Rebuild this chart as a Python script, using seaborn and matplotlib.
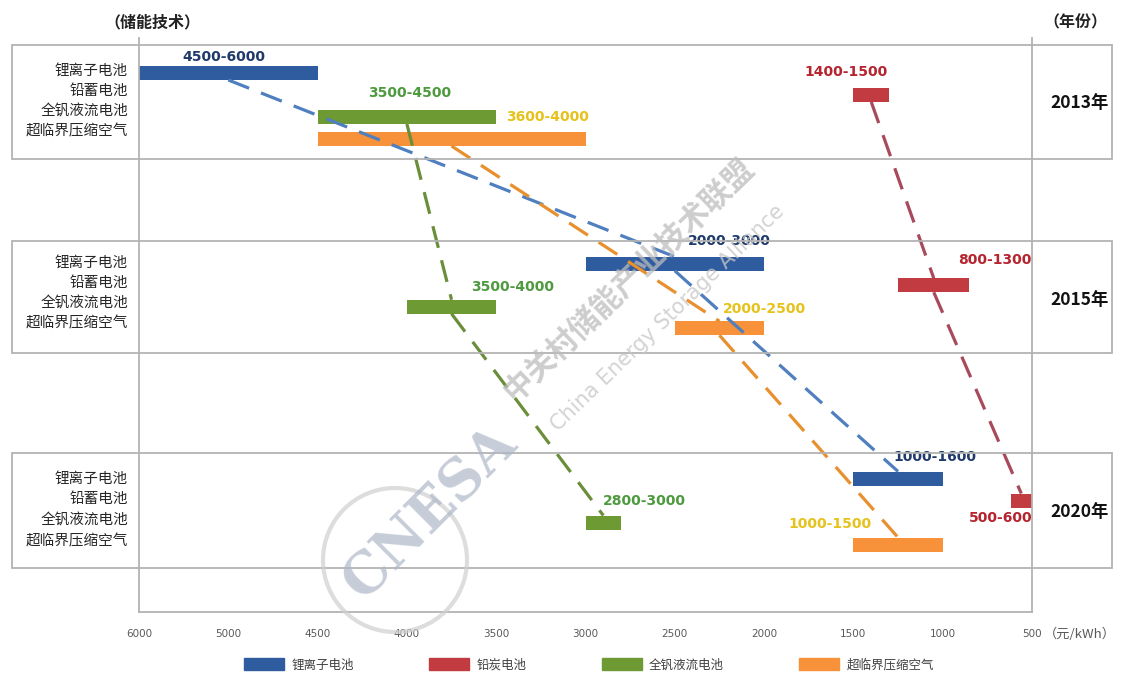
import numpy as np
import pandas as pd
import matplotlib
matplotlib.use("Agg")
import matplotlib.pyplot as plt
from matplotlib.patches import Rectangle, Patch, Circle
from matplotlib.transforms import IdentityTransform
import seaborn as sns

# ---------------- data ----------------
techs = ["锂离子电池", "铅炭电池", "全钒液流电池", "超临界压缩空气"]
row_labels = ["锂离子电池", "铅蓄电池", "全钒液流电池", "超临界压缩空气"]
years = ["2013年", "2015年", "2020年"]

low_2013 = [4500, 1300, 3500, 3000]
high_2013 = [6000, 1500, 4500, 4500]
low_2015 = [2000, 850, 3500, 2000]
high_2015 = [3000, 1250, 4000, 2500]
low_2020 = [1000, 500, 2800, 1000]
high_2020 = [1500, 620, 3000, 1500]

labels_2013 = ["4500-6000", "1400-1500", "3500-4500", "3600-4000"]
labels_2015 = ["2000-3000", "800-1300", "3500-4000", "2000-2500"]
labels_2020 = ["1000-1600", "500-600", "2800-3000", "1000-1500"]

xtick_values = [6000, 5000, 4500, 4000, 3500, 3000, 2500, 2000, 1500, 1000, 500]
xtick_labels = ["6000", "5000", "4500", "4000", "3500", "3000", "2500", "2000", "1500", "1000", "500"]

lows = [low_2013, low_2015, low_2020]
highs = [high_2013, high_2015, high_2020]
value_labels = [labels_2013, labels_2015, labels_2020]

# ---------------- style ----------------
bar_colors = ["#2F5C9E", "#C23B40", "#6E9A34", "#F7923A"]
dash_colors = ["#4F7FBF", "#A84A5C", "#6B8E3A", "#E8902E"]
label_colors = ["#1F3A6B", "#B5242F", "#4E9A3E", "#E6C21C"]
grey = "#B3B3B3"

sns.set_theme(style="white")
plt.rcParams["font.family"] = ["Noto Sans CJK SC", "DejaVu Sans"]

W, H = 1125, 682
fig = plt.figure(figsize=(W / 100, H / 100), dpi=100)
ax = fig.add_axes([139 / W, 1 - 612 / H, (1032 - 139) / W, (612 - 38) / H])


def fwd(v):
    v = np.asarray(v, dtype=float)
    return np.where(v > 5000, 5000 + (v - 5000) / 2.0, v)


def inv(p):
    p = np.asarray(p, dtype=float)
    return np.where(p > 5000, 5000 + (p - 5000) * 2.0, p)


def mid(lo, hi):
    return float(inv((fwd(lo) + fwd(hi)) / 2.0))


# layout (pixel-like y units, inverted axis)
bar_centers = [106, 296, 511.5]
bar_steps = [22, 21.5, 22]
bar_h = 14
lab_centers = [101, 293, 510]
lab_steps = [20, 20, 21]


def bar_y(j, i):
    return bar_centers[j] + (i - 1.5) * bar_steps[j]


# connectors (seaborn lineplot, drawn before the function scale is set)
rows = []
for i, t in enumerate(techs):
    for s in range(2):
        rows.append(dict(tech=t, seg=f"{t}-{s}", x=mid(lows[s][i], highs[s][i]),
                         y=bar_y(s, i) + bar_h / 2))
        rows.append(dict(tech=t, seg=f"{t}-{s}", x=mid(lows[s + 1][i], highs[s + 1][i]),
                         y=bar_y(s + 1, i) - bar_h / 2))
df_lines = pd.DataFrame(rows)
sns.lineplot(data=df_lines, x="x", y="y", hue="tech", units="seg", estimator=None,
             sort=False, palette=dict(zip(techs, dash_colors)), linewidth=2.3,
             linestyle=(0, (7, 4)), legend=False, ax=ax, zorder=3)

# bars
for j in range(3):
    for i in range(4):
        lo, hi = lows[j][i], highs[j][i]
        ax.barh(bar_y(j, i), hi - lo, left=lo, height=bar_h, color=bar_colors[i],
                edgecolor="none", zorder=2)

ax.set_xscale("function", functions=(fwd, inv))
ax.set_xlim(6000, 500)
ax.set_ylim(612, 38)
ax.set_xlabel("")
ax.set_ylabel("")
ax.set_xticks(xtick_values, labels=xtick_labels)
ax.xaxis.set_minor_locator(matplotlib.ticker.NullLocator())
ax.set_yticks([])
ax.tick_params(axis="x", direction="inout", length=5, width=1, color=grey,
               labelsize=7.5, labelcolor="#595959", pad=10)
for lab in ax.get_xticklabels():
    lab.set_family("DejaVu Sans")
for side in ["left", "right", "bottom"]:
    ax.spines[side].set_color(grey)
    ax.spines[side].set_linewidth(1.3)
ax.spines["top"].set_visible(False)

# value labels
offsets = [
    [(-4, -16), (-25, -23), (3, -24), (96, -22)],
    [(55, -23), (61, -25), (61, -20), (45, -19)],
    [(37, -22), (-21, 17), (41, -22), (-68, -21)],
]
for j in range(3):
    for i in range(4):
        dx, dy = offsets[j][i]
        ax.annotate(value_labels[j][i], xy=(mid(lows[j][i], highs[j][i]), bar_y(j, i)),
                    xytext=(dx, -dy), textcoords="offset pixels", ha="center", va="center",
                    fontsize=10, fontweight="bold", color=label_colors[i],
                    family="DejaVu Sans", zorder=5)

# group boxes
for top, bottom in [(45, 159), (241, 353), (453, 568)]:
    fig.add_artist(Rectangle((12 / W, 1 - bottom / H), (1112 - 12) / W, (bottom - top) / H,
                             transform=fig.transFigure, fill=False, edgecolor=grey, lw=1.3))

# row labels and year labels
year_y = [103, 300, 512]
for j in range(3):
    for i in range(4):
        y = lab_centers[j] + (i - 1.5) * lab_steps[j]
        fig.text(128 / W, 1 - y / H, row_labels[i], ha="right", va="center",
                 fontsize=10.5, color="#262626")
    fig.text(1080 / W, 1 - year_y[j] / H, years[j], ha="center", va="center",
             fontsize=12.5, fontweight="bold", color="#111111")

fig.text(152 / W, 1 - 22 / H, "（储能技术）", ha="center", va="center",
         fontsize=11.5, fontweight="bold", color="#222222")
fig.text(1075 / W, 1 - 22 / H, "（年份）", ha="center", va="center",
         fontsize=11.5, fontweight="bold", color="#222222")
fig.text(1080 / W, 1 - 634 / H, "（元/kWh）", ha="center", va="center",
         fontsize=9.5, color="#595959")

# watermark
fig.text(628 / W, 1 - 280 / H, "中关村储能产业技术联盟", ha="center", va="center",
         rotation=44, fontsize=22, fontweight="bold", color="#BDBDBD", alpha=0.75, zorder=6)
fig.text(668 / W, 1 - 318 / H, "China Energy Storage Alliance", ha="center", va="center",
         rotation=44, fontsize=15, color="#C8C8C8", alpha=0.8, family="DejaVu Sans", zorder=6)
fig.text(430 / W, 1 - 512 / H, "CNESA", ha="center", va="center", rotation=45,
         fontsize=40, fontweight="bold", color="#AEB8C8", alpha=0.7, family="DejaVu Serif",
         zorder=6)
fig.add_artist(Circle((395, H - 560), 72, transform=IdentityTransform(), fill=False,
                      edgecolor="#CFCFCF", lw=3, alpha=0.7))

# legend
handles = [Patch(facecolor=c, edgecolor=c) for c in bar_colors]
leg = fig.legend(handles, techs, loc="center", bbox_to_anchor=(589 / W, 1 - 665 / H),
                 ncol=4, frameon=False, fontsize=9, handlelength=3.2, handleheight=1.1,
                 handletextpad=0.6, columnspacing=6)
for t in leg.get_texts():
    t.set_color("#404040")

fig.savefig("out.png", dpi=100)
